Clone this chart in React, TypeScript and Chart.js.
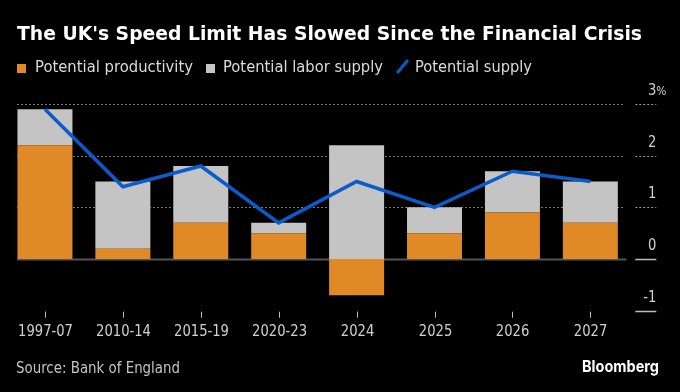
import React, { useEffect, useLayoutEffect, useRef } from 'react';
import { Chart, registerables } from 'chart.js';

Chart.register(...registerables);

// ---- Data ----
const categories = ['1997-07', '2010-14', '2015-19', '2020-23', '2024', '2025', '2026', '2027'];
const potentialProductivity = [2.2, 0.2, 0.7, 0.5, -0.7, 0.5, 0.9, 0.7];
const potentialLaborSupply = [0.7, 1.3, 1.1, 0.2, 2.2, 0.5, 0.8, 0.8];
const potentialSupply = [2.9, 1.4, 1.8, 0.7, 1.5, 1.0, 1.7, 1.5];
const yTickValues = [-1, 0, 1, 2, 3];
const yTickLabels = ['-1', '0', '1', '2', '3'];

const ORANGE = '#DF8A27';
const GREY = '#C4C4C4';
const BLUE = '#0B5CCB';

type FitProps = {
  text: string;
  left: number;
  baseline: number;
  width: number;
  size: number;
  weight?: number;
  color: string;
  family?: string;
  ascent?: number;
};

const FitText = ({ text, left, baseline, width, size, weight = 400, color, family = '"DejaVu Sans", sans-serif', ascent = 0.846 }: FitProps) => {
  const ref = useRef<HTMLSpanElement>(null);
  useLayoutEffect(() => {
    const el = ref.current;
    if (!el) return;
    el.style.transform = 'none';
    const w = el.getBoundingClientRect().width;
    if (w > 0) el.style.transform = `scaleX(${width / w})`;
  }, [text, width]);
  return (
    <span
      ref={ref}
      style={{
        position: 'absolute',
        left,
        top: baseline - size * ascent,
        fontFamily: family,
        fontSize: size,
        fontWeight: weight,
        lineHeight: `${size}px`,
        color,
        whiteSpace: 'nowrap',
        transformOrigin: '0 0',
        display: 'inline-block',
      }}
    >
      {text}
    </span>
  );
};

const decorPlugin = {
  id: 'decor',
  beforeDatasetsDraw(chart: any) {
    const { ctx, chartArea, scales } = chart;
    const y = scales.y;
    const gl = chartArea.left + 11;
    const gr = chartArea.right - 5;
    ctx.save();
    yTickValues.forEach((v) => {
      const py = Math.round(y.getPixelForValue(v)) + 0.5;
      if (v > 0) {
        ctx.strokeStyle = '#7c7c7c';
        ctx.lineWidth = 1;
        ctx.setLineDash([2, 2]);
        ctx.beginPath();
        ctx.moveTo(gl, py);
        ctx.lineTo(gr, py);
        ctx.stroke();
      } else if (v === 0) {
        ctx.strokeStyle = '#555555';
        ctx.lineWidth = 2;
        ctx.setLineDash([]);
        ctx.beginPath();
        ctx.moveTo(gl, py);
        ctx.lineTo(gr + 2, py);
        ctx.stroke();
      }
    });
    ctx.restore();
  },
  afterDraw(chart: any) {
    const { ctx, chartArea, scales } = chart;
    const x = scales.x;
    const y = scales.y;
    ctx.save();
    const mx0 = chartArea.right + 6;
    const mx1 = chartArea.right + 27;
    ctx.font = '16px "DejaVu Sans", sans-serif';
    const k = 55 / ctx.measureText('1997-07').width;
    yTickValues.forEach((v, i) => {
      const py = Math.round(y.getPixelForValue(v)) + 0.5;
      ctx.beginPath();
      if (v > 0) {
        ctx.strokeStyle = '#9a9a9a';
        ctx.lineWidth = 1;
        ctx.setLineDash([2, 2]);
      } else {
        ctx.strokeStyle = '#bdbdbd';
        ctx.lineWidth = 1.5;
        ctx.setLineDash([]);
      }
      ctx.moveTo(mx0, py);
      ctx.lineTo(mx1, py);
      ctx.stroke();
      ctx.setLineDash([]);
      const label = yTickLabels[i];
      ctx.fillStyle = '#d0d0d0';
      ctx.textBaseline = 'alphabetic';
      ctx.save();
      ctx.translate(mx1, py - 9.5);
      ctx.scale(k, 1);
      ctx.textAlign = 'right';
      ctx.fillText(label, 0, 0);
      if (i === yTickValues.length - 1) {
        ctx.textAlign = 'left';
        ctx.font = '13px "DejaVu Sans", sans-serif';
        ctx.fillText('%', 0, 0);
      }
      ctx.restore();
      ctx.font = '16px "DejaVu Sans", sans-serif';
    });
    categories.forEach((c, i) => {
      const px = Math.round(x.getPixelForValue(i)) + 0.5;
      ctx.strokeStyle = '#bdbdbd';
      ctx.lineWidth = 1;
      ctx.beginPath();
      ctx.moveTo(px, chartArea.bottom + 1);
      ctx.lineTo(px, chartArea.bottom + 7);
      ctx.stroke();
      ctx.fillStyle = '#d0d0d0';
      ctx.save();
      ctx.translate(px, chartArea.bottom + 25);
      ctx.scale(k, 1);
      ctx.textAlign = 'center';
      ctx.textBaseline = 'alphabetic';
      ctx.fillText(c, 0, 0);
      ctx.restore();
    });
    ctx.restore();
  },
};

export default function App() {
  const canvasRef = useRef<HTMLCanvasElement>(null);

  useEffect(() => {
    const canvas = canvasRef.current;
    if (!canvas) return;
    const chart = new Chart(canvas, {
      type: 'bar',
      data: {
        labels: categories,
        datasets: [
          {
            type: 'line',
            label: 'Potential supply',
            data: potentialSupply,
            borderColor: BLUE,
            backgroundColor: BLUE,
            borderWidth: 3.5,
            pointRadius: 0,
            tension: 0,
            order: 0,
            stack: 'line',
          } as any,
          {
            type: 'bar',
            label: 'Potential productivity',
            data: potentialProductivity,
            backgroundColor: ORANGE,
            borderWidth: 0,
            barPercentage: 0.706,
            categoryPercentage: 1,
            order: 1,
            stack: 'bars',
          },
          {
            type: 'bar',
            label: 'Potential labor supply',
            data: potentialLaborSupply,
            backgroundColor: GREY,
            borderWidth: 0,
            barPercentage: 0.706,
            categoryPercentage: 1,
            order: 1,
            stack: 'bars',
          },
        ],
      },
      options: {
        responsive: false,
        animation: false,
        devicePixelRatio: 1,
        layout: { padding: { left: 6, right: 50.7, top: 104, bottom: 81.3 } },
        plugins: { legend: { display: false }, tooltip: { enabled: false } },
        scales: {
          x: { display: false, stacked: true },
          y: { display: false, stacked: true, min: -1, max: 3, ticks: { stepSize: 1 } },
        },
      },
      plugins: [decorPlugin],
    });
    return () => chart.destroy();
  }, []);

  return (
    <div style={{ position: 'fixed', left: 0, top: 0, width: 680, height: 392, background: '#000', overflow: 'hidden' }}>
      <canvas ref={canvasRef} width={680} height={392} style={{ position: 'absolute', left: 0, top: 0, display: 'block' }} />
      <FitText text="The UK's Speed Limit Has Slowed Since the Financial Crisis" left={17} baseline={40} width={625} size={20} weight={700} color="#ffffff" />
      <div style={{ position: 'absolute', left: 17, top: 64, width: 9, height: 9, background: ORANGE }} />
      <FitText text="Potential productivity" left={35} baseline={73} width={158} size={16} color="#dcdcdc" />
      <div style={{ position: 'absolute', left: 206, top: 64, width: 9, height: 9, background: GREY }} />
      <FitText text="Potential labor supply" left={223} baseline={73} width={160} size={16} color="#dcdcdc" />
      <div style={{ position: 'absolute', left: 401, top: 58, width: 3, height: 17, background: BLUE, transform: 'rotate(40deg)' }} />
      <FitText text="Potential supply" left={415} baseline={73} width={117} size={16} color="#dcdcdc" />
      <FitText text="Source: Bank of England" left={16} baseline={374} width={164} size={15} color="#c4c4c4" />
      <FitText text="Bloomberg" left={582} baseline={372} width={77} size={16} weight={700} color="#ffffff" family='Inter, "DejaVu Sans", sans-serif' ascent={0.8635} />
    </div>
  );
}
